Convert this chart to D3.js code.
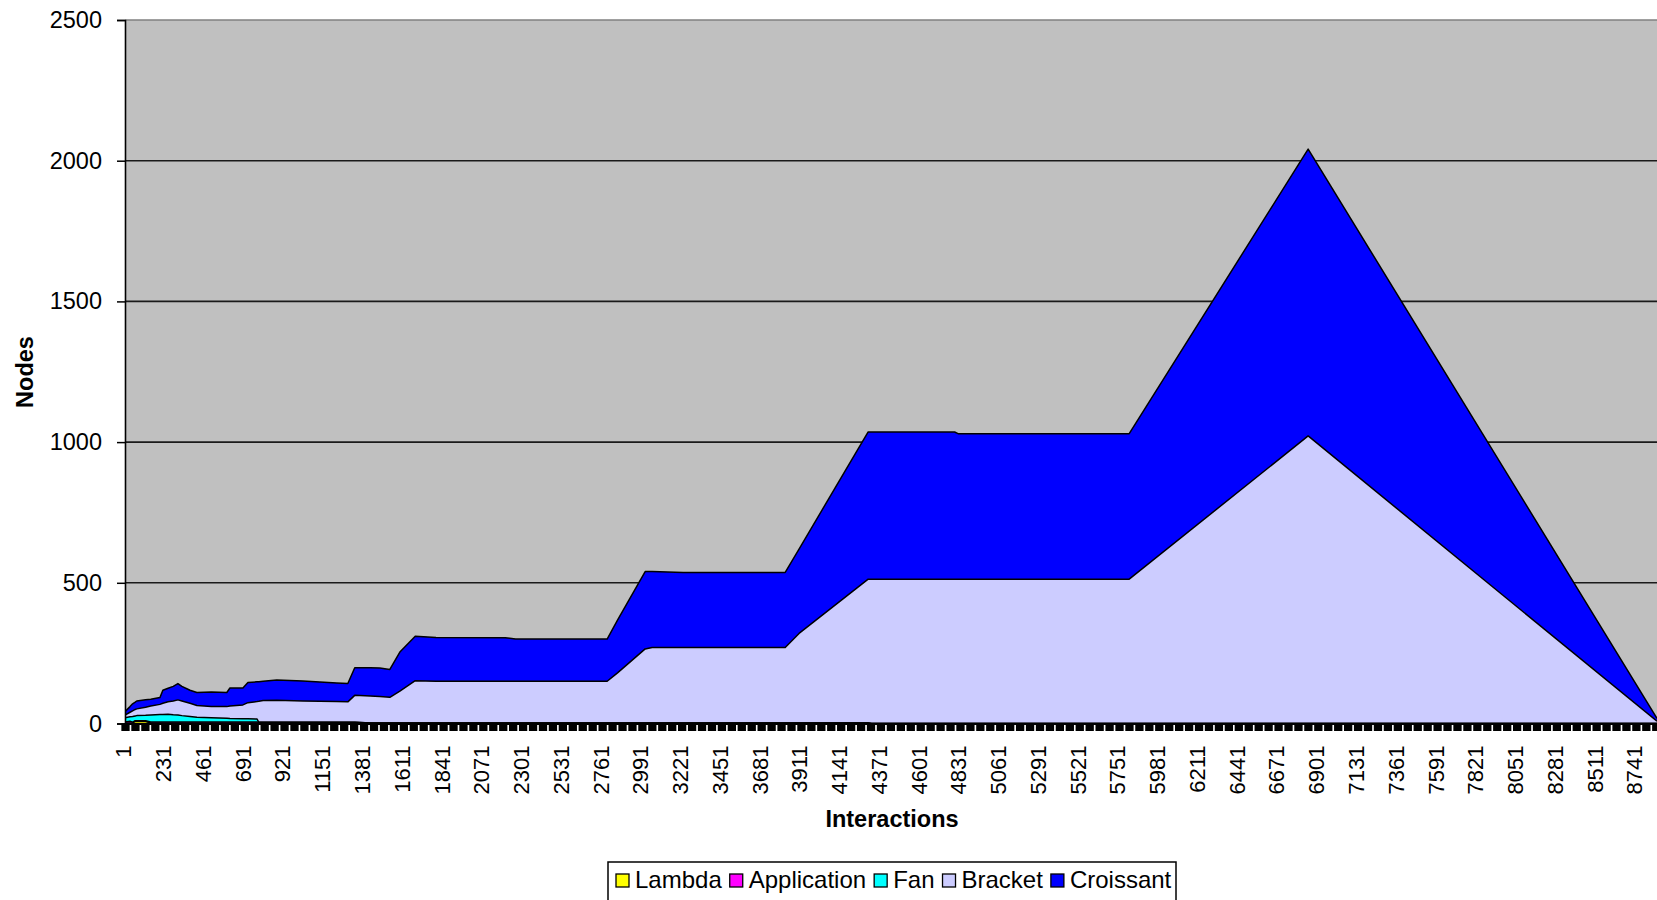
<!DOCTYPE html>
<html>
<head>
<meta charset="utf-8">
<script src="https://cdn.jsdelivr.net/npm/d3@7"></script>
<style>
  html, body { margin: 0; padding: 0; background: #fff; }
  svg { display: block; font-family: "Liberation Sans", Arial, sans-serif; }
</style>
</head>
<body>
<svg id="chart" width="1657" height="900"></svg>
<script>
// ---------- data ----------
const interactions = [1, 30, 45, 60, 69, 120, 150, 203, 220, 250, 280, 307, 330, 377, 417, 500, 590, 608, 683, 712,
  765, 775, 800, 879, 1030, 1226, 1290, 1330, 1420, 1475, 1533, 1591, 1680, 1800, 2200, 2260, 2790, 2850, 3010, 3050,
  3230, 3820, 3900, 4300, 4320, 4800, 4820, 5810, 6845, 8863];
const lambda = [2, 2, 2, 7, 7, 7, 2, 2, 2, 2, 2, 2, 2, 2, 2, 2, 2, 2, 2, 2,
  2, 2, 2, 2, 2, 2, 2, 2, 1, 1, 1, 1, 1, 1, 1, 1, 1, 1, 1, 1,
  1, 1, 1, 1, 0, 0, 0, 0, 0, 0];
const application = [3, 6, 3, 3, 3, 3, 3, 3, 3, 3, 3, 3, 3, 3, 3, 3, 3, 3, 3, 3,
  3, 2, 2, 2, 2, 2, 2, 2, 1, 1, 1, 1, 1, 1, 1, 1, 1, 1, 1, 1,
  1, 1, 1, 1, 0, 0, 0, 0, 0, 0];
const fan = [15, 16, 20, 17, 18, 19, 25, 27, 27, 28, 26, 25, 23, 20, 17, 15, 14, 13, 12, 12,
  11, 0, 0, 0, 0, 0, 0, 0, 0, 0, 0, 0, 0, 0, 0, 0, 0, 0, 0, 0,
  0, 0, 0, 0, 0, 0, 0, 0, 0, 0];
const bracket = [10, 16, 20, 23, 24, 29, 32, 36, 40, 44, 49, 54, 52, 47, 42, 40, 41, 44, 49, 57,
  62, 75, 78, 79, 76, 74, 73, 96, 96, 94, 91, 113, 150, 148, 148, 148, 148, 178, 263, 268,
  268, 268, 318, 511, 513, 513, 513, 513, 1022, 8];
const croissant = [12, 20, 25, 26, 28, 26, 24, 24, 46, 48, 52, 58, 52, 46, 46, 52, 50, 64, 60, 72,
  70, 69, 68, 72, 71, 66, 65, 98, 100, 101, 99, 139, 158, 156, 155, 150, 150, 187, 275, 270,
  267, 267, 300, 523, 523, 523, 517, 517, 1019, 10];

const seriesNames = ["Lambda", "Application", "Fan", "Bracket", "Croissant"];
const seriesColors = ["#FFFF00", "#FF00FF", "#00FFFF", "#CCCCFF", "#0000FF"];
const xTickLabels = [1, 231, 461, 691, 921, 1151, 1381, 1611, 1841, 2071, 2301, 2531, 2761, 2991, 3221, 3451,
  3681, 3911, 4141, 4371, 4601, 4831, 5061, 5291, 5521, 5751, 5981, 6211, 6441, 6671, 6901, 7131, 7361,
  7591, 7821, 8051, 8281, 8511, 8741];
const yTickValues = [0, 500, 1000, 1500, 2000, 2500];
const xTitle = "Interactions";
const yTitle = "Nodes";

// ---------- layout ----------
const plotLeft = 125, plotRight = 1657, plotTop = 20, plotBottom = 723.5;
const svg = d3.select("#chart");

const x = d3.scaleLinear().domain([1, 8863]).range([plotLeft, plotRight]);
const y = d3.scaleLinear().domain([0, 2500]).range([plotBottom, plotTop]);

const series = [lambda, application, fan, bracket, croissant];
const rows = interactions.map((xi, i) => {
  const r = { x: xi };
  seriesNames.forEach((n, k) => r[n] = series[k][i]);
  return r;
});
const stacked = d3.stack().keys(seriesNames)(rows);

// plot background
svg.append("rect")
  .attr("x", plotLeft).attr("y", plotTop)
  .attr("width", plotRight - plotLeft).attr("height", plotBottom - plotTop)
  .attr("fill", "#C0C0C0");

// gridlines
svg.append("g").selectAll("line")
  .data(yTickValues.filter(v => v > 0 && v < 2500))
  .join("line")
  .attr("x1", plotLeft).attr("x2", plotRight)
  .attr("y1", d => y(d)).attr("y2", d => y(d))
  .attr("stroke", "#1a1a1a").attr("stroke-width", 1.6);
svg.append("line")
  .attr("x1", plotLeft).attr("x2", plotRight)
  .attr("y1", y(2500)).attr("y2", y(2500))
  .attr("stroke", "#808080").attr("stroke-width", 1.5);

// clip
svg.append("clipPath").attr("id", "clip")
  .append("rect").attr("x", plotLeft).attr("y", plotTop)
  .attr("width", plotRight - plotLeft).attr("height", plotBottom - plotTop + 1);

const area = d3.area()
  .x(d => x(d.data.x))
  .y0(d => y(d[0]))
  .y1(d => y(d[1]));
const topLine = d3.line()
  .x(d => x(d.data.x))
  .y(d => y(d[1]));

const gAreas = svg.append("g").attr("clip-path", "url(#clip)");
stacked.forEach((s, k) => {
  gAreas.append("path")
    .datum(s)
    .attr("d", area)
    .attr("fill", seriesColors[k]);
});
stacked.forEach((s, k) => {
  gAreas.append("path")
    .datum(s)
    .attr("d", topLine)
    .attr("fill", "none")
    .attr("stroke", "#000")
    .attr("stroke-width", 1.5)
    .attr("stroke-linejoin", "round");
});

// y axis
const yAxis = d3.axisLeft(y).tickValues(yTickValues).tickSize(8).tickPadding(15).tickFormat(d3.format("d"));
const gy = svg.append("g").attr("transform", `translate(${plotLeft},0)`).call(yAxis);
gy.select(".domain").attr("stroke", "#000").attr("stroke-width", 1.6);
gy.selectAll(".tick line").attr("stroke", "#000").attr("stroke-width", 1.5);
gy.selectAll(".tick text").attr("font-size", 23.5).attr("fill", "#000")
  .attr("font-family", "'Liberation Sans', Arial, sans-serif");

// x axis: dense tick marks
const step = (xTickLabels[1] - xTickLabels[0]) / 4;
const tickMarks = d3.range(xTickLabels[0], 8863, step);
const xAxisMarks = d3.axisBottom(x).tickValues(tickMarks).tickSize(7.5).tickFormat("");
const gxm = svg.append("g").attr("transform", `translate(0,${plotBottom})`).call(xAxisMarks);
gxm.select(".domain").attr("stroke", "#000").attr("stroke-width", 2);
gxm.selectAll(".tick line").attr("stroke", "#000").attr("stroke-width", 8.3);

// x axis labels
const xAxisLabels = d3.axisBottom(x).tickValues(xTickLabels).tickSize(0).tickFormat(d3.format("d"));
const gx = svg.append("g").attr("transform", `translate(0,${plotBottom})`).call(xAxisLabels);
gx.select(".domain").remove();
gx.selectAll(".tick text")
  .attr("font-size", 22).attr("fill", "#000")
  .attr("font-family", "'Liberation Sans', Arial, sans-serif")
  .attr("text-anchor", "end")
  .attr("transform", "translate(-2,22) rotate(-90)")
  .attr("x", 0).attr("y", 0).attr("dy", "0.36em");

// titles
svg.append("text")
  .attr("x", 892).attr("y", 827)
  .attr("text-anchor", "middle")
  .attr("font-size", 23.5).attr("font-weight", "bold")
  .text(xTitle);
svg.append("text")
  .attr("transform", "translate(33,372) rotate(-90)")
  .attr("text-anchor", "middle")
  .attr("font-size", 23.5).attr("font-weight", "bold")
  .text(yTitle);

// legend
const legend = svg.append("g");
legend.append("rect")
  .attr("x", 608).attr("y", 862).attr("width", 568).attr("height", 50)
  .attr("fill", "#fff").attr("stroke", "#000").attr("stroke-width", 1.5);
let lx = 616;
seriesNames.forEach((n, k) => {
  legend.append("rect")
    .attr("x", lx).attr("y", 874).attr("width", 13).attr("height", 13)
    .attr("fill", seriesColors[k]).attr("stroke", "#000").attr("stroke-width", 1.3);
  const t = legend.append("text")
    .attr("x", lx + 19).attr("y", 888)
    .attr("font-size", 24).attr("fill", "#000")
    .text(n);
  lx = lx + 19 + t.node().getComputedTextLength() + 8;
});
</script>
</body>
</html>
